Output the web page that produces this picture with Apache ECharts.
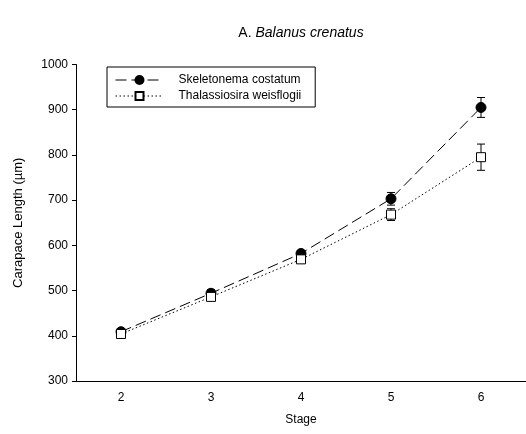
<!DOCTYPE html>
<html>
<head>
<meta charset="utf-8">
<script src="https://cdn.jsdelivr.net/npm/echarts@6/dist/echarts.min.js"></script>
<style>html,body{margin:0;padding:0;background:#fff;}#c{width:526px;height:434px;}</style>
</head>
<body>
<div id="c"></div>
<script>
const stages = ['2', '3', '4', '5', '6'];
const skeletonema = [409, 494, 582, 703, 905];
const skeletonemaErr = [6, 8, 7, 14, 22];
const thalassiosira = [404, 486, 569, 668, 795];
const thalassiosiraErr = [5, 6, 6, 13, 29];
const yTicks = { min: 300, max: 1000, step: 100 };

const FONT = 'Liberation Sans, Arial, sans-serif';

function errData(vals, errs) {
  return vals.map((v, i) => [i, v - errs[i], v + errs[i]]);
}
function errRender(params, api) {
  const x = api.value(0);
  const lo = api.coord([x, api.value(1)]);
  const hi = api.coord([x, api.value(2)]);
  const hw = 4;
  const st = { stroke: '#000', lineWidth: 1 };
  return {
    type: 'group',
    children: [
      { type: 'line', shape: { x1: lo[0], y1: lo[1], x2: hi[0], y2: hi[1] }, style: st },
      { type: 'line', shape: { x1: lo[0] - hw, y1: lo[1], x2: lo[0] + hw, y2: lo[1] }, style: st },
      { type: 'line', shape: { x1: hi[0] - hw, y1: hi[1], x2: hi[0] + hw, y2: hi[1] }, style: st }
    ]
  };
}

const chart = echarts.init(document.getElementById('c'), null, { renderer: 'canvas' });
chart.setOption({
  animation: false,
  backgroundColor: '#fff',
  textStyle: { fontFamily: FONT },
  title: {
    text: 'A. {i|Balanus crenatus}',
    left: 296,
    top: 21,
    textAlign: 'center',
    textStyle: {
      fontFamily: FONT, fontSize: 14, fontWeight: 'normal', color: '#000',
      rich: { i: { fontFamily: FONT, fontSize: 14, fontStyle: 'italic', color: '#000' } }
    }
  },
  legend: {
    left: 107,
    top: 67,
    orient: 'vertical',
    borderColor: '#000',
    borderWidth: 1,
    padding: [7, 14, 5, 8],
    itemGap: 4,
    itemWidth: 48,
    itemHeight: 10,
    lineStyle: { width: 1 },
    textStyle: { fontFamily: FONT, fontSize: 12, color: '#000', padding: [0, 0, 0, 10] },
    data: ['Skeletonema costatum', 'Thalassiosira weisflogii']
  },
  grid: { left: 76, right: 0, top: 64.5, bottom: 53, containLabel: false },
  xAxis: {
    type: 'category',
    data: stages,
    boundaryGap: true,
    name: 'Stage',
    nameLocation: 'middle',
    nameGap: 33,
    nameTextStyle: { fontFamily: FONT, fontSize: 12, color: '#000' },
    axisLine: { lineStyle: { color: '#000', width: 1 } },
    axisTick: { alignWithLabel: true, length: 4, lineStyle: { color: '#000' } },
    axisLabel: { fontFamily: FONT, fontSize: 12, color: '#000', margin: 11 },
    splitLine: { show: false }
  },
  yAxis: {
    type: 'value',
    min: yTicks.min,
    max: yTicks.max,
    interval: yTicks.step,
    name: 'Carapace Length (\u00b5m)',
    nameLocation: 'middle',
    nameGap: 51,
    nameTextStyle: { fontFamily: FONT, fontSize: 13, color: '#000' },
    axisLine: { show: true, lineStyle: { color: '#000', width: 1 } },
    axisTick: { show: true, length: 4, lineStyle: { color: '#000' } },
    axisLabel: { fontFamily: FONT, fontSize: 12, color: '#000', margin: 8, formatter: v => String(v) },
    splitLine: { show: false }
  },
  series: [
    {
      name: 'Skeletonema costatum',
      type: 'line',
      data: skeletonema,
      symbol: 'circle',
      symbolSize: 10,
      itemStyle: { color: '#000', borderColor: '#000', borderWidth: 1 },
      lineStyle: { color: '#000', width: 1, type: [11, 5] },
      z: 2
    },
    {
      type: 'custom',
      renderItem: errRender,
      data: errData(skeletonema, skeletonemaErr),
      z: 1,
      silent: true
    },
    {
      type: 'custom',
      renderItem: errRender,
      data: errData(thalassiosira, thalassiosiraErr),
      z: 3,
      silent: true
    },
    {
      name: 'Thalassiosira weisflogii',
      type: 'line',
      data: thalassiosira,
      symbol: 'rect',
      symbolSize: 9,
      itemStyle: { color: '#fff', borderColor: '#000', borderWidth: 1 },
      lineStyle: { color: '#000', width: 1, type: [1.5, 2.5] },
      z: 4
    }
  ]
});
</script>
</body>
</html>
